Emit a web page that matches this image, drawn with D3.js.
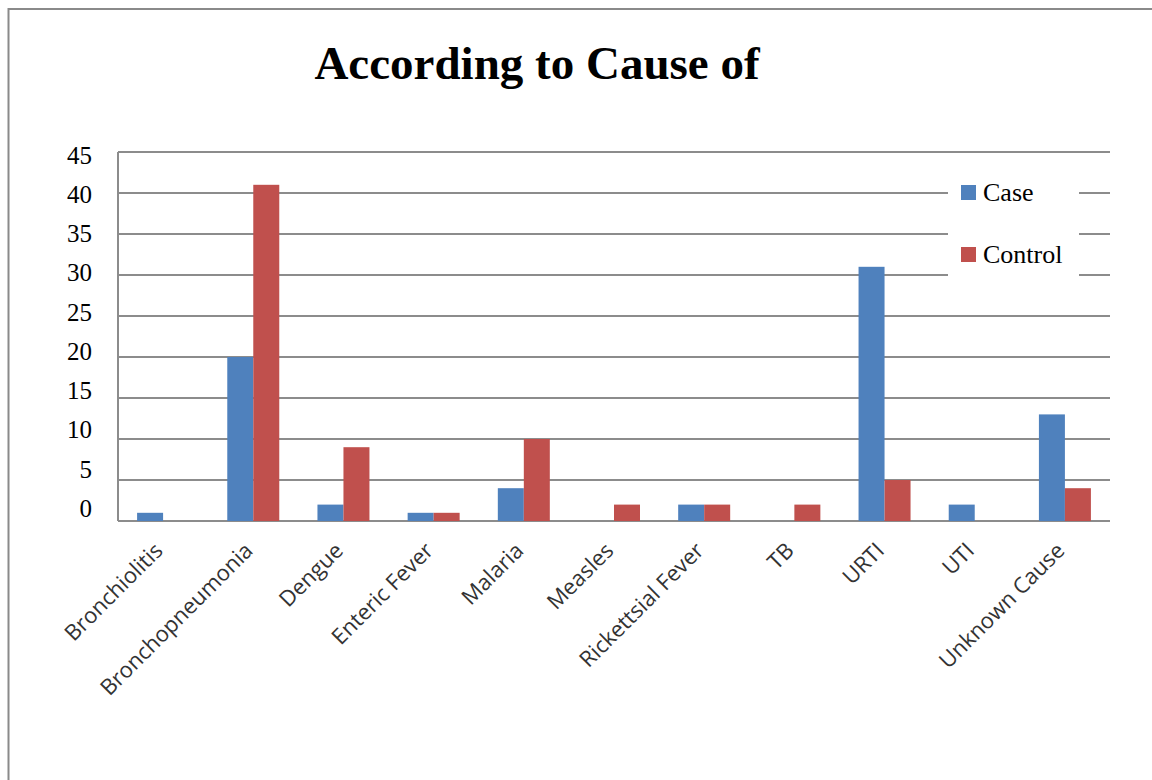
<!DOCTYPE html>
<html>
<head>
<meta charset="utf-8">
<script src="https://cdn.jsdelivr.net/npm/d3@7"></script>
<style>
  body { margin: 0; background: #fff; }
</style>
</head>
<body>
<div id="chart"></div>
<script>
// Data
const causes = ["Bronchiolitis", "Bronchopneumonia", "Dengue", "Enteric Fever", "Malaria",
    "Measles", "Rickettsial Fever", "TB", "URTI", "UTI", "Unknown Cause"];
const caseValues = [1, 20, 2, 1, 4, 0, 2, 0, 31, 2, 13];
const controlValues = [0, 41, 9, 1, 10, 2, 2, 2, 5, 0, 4];
const seriesNames = ["Case", "Control"];
const yTicks = [0, 5, 10, 15, 20, 25, 30, 35, 40, 45];

const width = 1152, height = 780;
const plot = {left: 118, right: 1110, top: 152, bottom: 521};
const colors = ["#4F81BD", "#C0504D"];
const serif = "'Liberation Serif', 'Times New Roman', serif";

const svg = d3.select("#chart")
    .append("svg")
    .attr("width", width)
    .attr("height", height);

// Outer chart border
svg.append("rect")
    .attr("x", 8.5)
    .attr("y", 9)
    .attr("width", 1200)
    .attr("height", 900)
    .attr("fill", "none")
    .attr("stroke", "#8a8a8a")
    .attr("stroke-width", 2);

// Title
svg.append("text")
    .attr("x", 537)
    .attr("y", 79)
    .attr("text-anchor", "middle")
    .style("font-family", serif)
    .style("font-size", "47px")
    .style("font-weight", "bold")
    .text("According to Cause of");

const x0 = d3.scaleBand()
    .domain(causes)
    .range([plot.left, plot.right]);

const x1 = d3.scaleBand()
    .domain(seriesNames)
    .range([0, 52])
    .padding(0);

const y = d3.scaleLinear()
    .domain([0, 45])
    .range([plot.bottom, plot.top]);

// label positions drift slightly from the gridlines in the original
const yLabel = d3.scaleLinear()
    .domain([0, 45])
    .range([508, 155]);

// Gridlines
svg.append("g")
    .selectAll("line")
    .data(yTicks)
    .enter()
    .append("line")
    .attr("x1", plot.left)
    .attr("x2", plot.right)
    .attr("y1", d => y(d))
    .attr("y2", d => y(d))
    .attr("stroke", "#8c8c8c")
    .attr("stroke-width", 2);

// Left axis line
svg.append("line")
    .attr("x1", plot.left)
    .attr("x2", plot.left)
    .attr("y1", plot.top)
    .attr("y2", plot.bottom)
    .attr("stroke", "#8c8c8c")
    .attr("stroke-width", 2);

// Y labels
svg.append("g")
    .selectAll("text")
    .data(yTicks)
    .enter()
    .append("text")
    .attr("x", 92)
    .attr("y", d => yLabel(d))
    .attr("dy", "0.35em")
    .attr("text-anchor", "end")
    .style("font-family", serif)
    .style("font-size", "25px")
    .attr("fill", "#000")
    .text(d => d);

// Bars
const rows = causes.map((c, i) => ({cause: c, values: [caseValues[i], controlValues[i]]}));

const groups = svg.append("g")
    .selectAll("g")
    .data(rows)
    .enter()
    .append("g")
    .attr("transform", d => `translate(${x0(d.cause) + x0.bandwidth() / 2 - 26},0)`);

groups.selectAll("rect")
    .data(d => d.values.map((v, j) => ({series: seriesNames[j], value: v, j: j})))
    .enter()
    .append("rect")
    .attr("x", d => x1(d.series))
    .attr("width", x1.bandwidth())
    .attr("y", d => y(d.value))
    .attr("height", d => plot.bottom - y(d.value))
    .attr("fill", d => colors[d.j]);

// X labels, rotated
svg.append("g")
    .selectAll("text")
    .data(causes)
    .enter()
    .append("text")
    .attr("transform", d => `translate(${x0(d) + x0.bandwidth() / 2 + 1},${552}) rotate(-45)`)
    .attr("text-anchor", "end")
    .style("font-family", "'Open Sans', 'Liberation Sans', sans-serif")
    .style("font-size", "22px")
    .attr("fill", "#333")
    .text(d => d);

// Legend
const legend = svg.append("g");
legend.append("rect")
    .attr("x", 948)
    .attr("y", 170)
    .attr("width", 131)
    .attr("height", 110)
    .attr("fill", "#fff");

const legendItems = legend.selectAll("g")
    .data(seriesNames)
    .enter()
    .append("g")
    .attr("transform", (d, i) => `translate(961,${185 + i * 62})`);

legendItems.append("rect")
    .attr("width", 15)
    .attr("height", 15)
    .attr("fill", (d, i) => colors[i]);

legendItems.append("text")
    .attr("x", 22)
    .attr("y", 16)
    .style("font-family", serif)
    .style("font-size", "26px")
    .text(d => d);
</script>
</body>
</html>
